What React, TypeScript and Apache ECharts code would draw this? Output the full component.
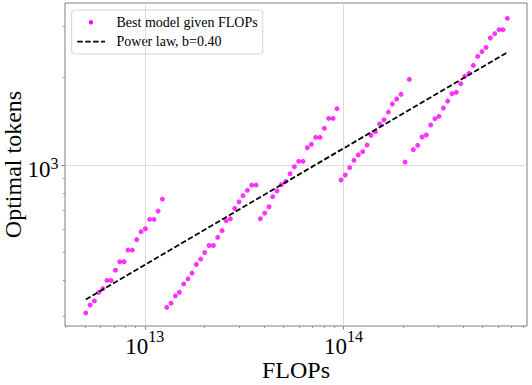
import React, { useEffect, useRef } from 'react';
import * as echarts from 'echarts';

// ---- data (FLOPs, optimal tokens) ----
const sweep1Flops = [5.05e12, 5.31e12, 5.58e12, 5.87e12, 6.15e12, 6.46e12, 6.77e12, 7.12e12, 7.48e12, 7.87e12, 8.24e12, 8.66e12, 9.11e12, 9.58e12, 1.007e13, 1.059e13, 1.114e13, 1.167e13, 1.227e13];
const sweep1Tokens = [309, 329, 340, 364, 375, 400, 400, 434, 464, 464, 509, 509, 553, 589, 603, 650, 650, 694, 763];

const sweep2Flops = [1.29e13, 1.356e13, 1.426e13, 1.494e13, 1.57e13, 1.651e13, 1.729e13, 1.818e13, 1.912e13, 2.003e13, 2.106e13, 2.214e13, 2.328e13, 2.448e13, 2.564e13, 2.696e13, 2.835e13, 2.98e13, 3.122e13, 3.283e13, 3.452e13, 3.63e13];
const sweep2Tokens = [323, 334, 354, 364, 389, 405, 424, 454, 474, 499, 528, 528, 563, 594, 643, 653, 709, 746, 784, 818, 853, 853];

const sweep3Flops = [3.816e13, 4.013e13, 4.22e13, 4.403e13, 4.629e13, 4.867e13, 5.118e13, 5.382e13, 5.658e13, 5.95e13, 6.256e13, 6.578e13, 6.889e13, 7.244e13, 7.617e13, 8.009e13, 8.422e13, 8.855e13, 9.275e13];
const sweep3Tokens = [653, 683, 718, 778, 814, 855, 878, 933, 987, 1030, 1030, 1148, 1179, 1246, 1246, 1338, 1448, 1448, 1564];

const sweep4Flops = [9.714e13, 1.021e14, 1.074e14, 1.129e14, 1.187e14, 1.249e14, 1.313e14, 1.375e14, 1.446e14, 1.52e14, 1.598e14, 1.681e14, 1.76e14, 1.851e14, 1.946e14, 2.144e14];
const sweep4Tokens = [888, 924, 979, 1038, 1083, 1112, 1172, 1266, 1303, 1385, 1433, 1523, 1623, 1689, 1753, 1974];

const sweep5Flops = [2.039e14, 2.246e14, 2.361e14, 2.483e14, 2.61e14, 2.745e14, 2.886e14, 3.023e14, 3.178e14, 3.342e14, 3.514e14, 3.695e14, 3.885e14, 4.069e14, 4.279e14, 4.499e14, 4.731e14, 4.974e14, 5.21e14, 5.478e14, 5.76e14, 6.057e14, 6.344e14, 6.67e14];
const sweep5Tokens = [1024, 1130, 1169, 1249, 1269, 1374, 1445, 1472, 1572, 1662, 1762, 1781, 1908, 2022, 2071, 2206, 2369, 2459, 2545, 2741, 2837, 2929, 2929, 3205];

const powerLawFlops = [5.05e12, 6.67e14];
const powerLawTokens = [344, 2446];

const flopsRange = [3.97e12, 8.376e14];
const tokensRange = [278.6, 3620];

const xMajorTicks = [1e13, 1e14];
const xMinorTicks = [4e12, 5e12, 6e12, 7e12, 8e12, 9e12, 2e13, 3e13, 4e13, 5e13, 6e13, 7e13, 8e13, 9e13, 2e14, 3e14, 4e14, 5e14, 6e14, 7e14, 8e14];
const yMajorTicks = [1e3];
const yMinorTicks = [300, 400, 500, 600, 700, 800, 900, 2000, 3000];

const legendLabels = ['Best model given FLOPs', 'Power law, b=0.40'];
const xName = 'FLOPs';
const yName = 'Optimal tokens';

const SERIF = "Liberation Serif, Times New Roman, DejaVu Serif, serif";
const MAGENTA = '#ff00ff';
const SPINE = '#7f7f7f';
const DASH = [5.5, 2.4];

const lg = (v: number) => Math.log10(v);

export default function App() {
  const ref = useRef<HTMLDivElement>(null);

  useEffect(() => {
    if (!ref.current) return;
    const chart = echarts.init(ref.current, undefined, { renderer: 'svg' });

    const sweeps = [
      [sweep1Flops, sweep1Tokens],
      [sweep2Flops, sweep2Tokens],
      [sweep3Flops, sweep3Tokens],
      [sweep4Flops, sweep4Tokens],
      [sweep5Flops, sweep5Tokens],
    ];
    const scatterData: number[][] = [];
    sweeps.forEach(([fx, ty]) => fx.forEach((f, i) => scatterData.push([lg(f), lg(ty[i])])));
    const lineData = powerLawFlops.map((f, i) => [lg(f), lg(powerLawTokens[i])]);

    const xMin = lg(flopsRange[0]);
    const xMax = lg(flopsRange[1]);
    const yMin = lg(tokensRange[0]);
    const yMax = lg(tokensRange[1]);

    const richX = {
      b: { fontSize: 23, fontFamily: SERIF, color: '#000', lineHeight: 30, verticalAlign: 'bottom' },
      s: { fontSize: 16, fontFamily: SERIF, color: '#000', lineHeight: 8, verticalAlign: 'top' },
    };
    const richY = {
      b: { fontSize: 23, fontFamily: SERIF, color: '#000', lineHeight: 26, verticalAlign: 'bottom' },
      s: { fontSize: 16, fontFamily: SERIF, color: '#000', lineHeight: 12, verticalAlign: 'top' },
    };
    const fmt = (v: number) => `{b|10}{s|${Math.round(v)}}`;

    const option: any = {
      animation: false,
      backgroundColor: '#ffffff',
      grid: {
        left: 65,
        top: 3,
        right: 5,
        bottom: 59,
        containLabel: false,
        outerBoundsMode: 'none',
        show: true,
        borderColor: SPINE,
        borderWidth: 1,
        backgroundColor: 'transparent',
      },
      xAxis: [
        {
          type: 'value',
          min: xMin,
          max: xMax,
          position: 'bottom',
          name: xName,
          nameLocation: 'middle',
          nameGap: 32,
          nameMoveOverlap: false,
          nameTextStyle: { fontSize: 24, fontFamily: SERIF, color: '#000' },
          axisLine: { show: false },
          axisTick: { show: true, length: 3.5, inside: false, customValues: xMajorTicks.map(lg), lineStyle: { color: SPINE, width: 1 } },
          axisLabel: { show: true, customValues: xMajorTicks.map(lg), formatter: fmt, rich: richX, margin: 2 },
          splitLine: { show: true, lineStyle: { color: '#dadada', width: 1 } },
        },
        {
          type: 'value',
          min: xMin,
          max: xMax,
          position: 'bottom',
          axisLine: { show: false },
          axisTick: { show: true, length: 2, inside: false, customValues: xMinorTicks.map(lg), lineStyle: { color: SPINE, width: 0.8 } },
          axisLabel: { show: false },
          splitLine: { show: false },
        },
      ],
      yAxis: [
        {
          type: 'value',
          min: yMin,
          max: yMax,
          position: 'left',
          name: yName,
          nameLocation: 'middle',
          nameGap: 40,
          nameMoveOverlap: false,
          nameTextStyle: { fontSize: 24, fontFamily: SERIF, color: '#000' },
          axisLine: { show: false },
          axisTick: { show: true, length: 3.5, inside: false, customValues: yMajorTicks.map(lg), lineStyle: { color: SPINE, width: 1 } },
          axisLabel: { show: true, customValues: yMajorTicks.map(lg), formatter: fmt, rich: richY, margin: 6.5, padding: [6, 0, 0, 0] },
          splitLine: { show: true, lineStyle: { color: '#dadada', width: 1 } },
        },
        {
          type: 'value',
          min: yMin,
          max: yMax,
          position: 'left',
          axisLine: { show: false },
          axisTick: { show: true, length: 2, inside: false, customValues: yMinorTicks.map(lg), lineStyle: { color: SPINE, width: 0.8 } },
          axisLabel: { show: false },
          splitLine: { show: false },
        },
      ],
      series: [
        {
          name: legendLabels[0],
          type: 'scatter',
          xAxisIndex: 0,
          yAxisIndex: 0,
          data: scatterData,
          symbol: 'circle',
          symbolSize: 5,
          itemStyle: { color: MAGENTA },
          z: 3,
          silent: true,
        },
        {
          name: legendLabels[1],
          type: 'line',
          xAxisIndex: 0,
          yAxisIndex: 0,
          data: lineData,
          showSymbol: false,
          symbol: 'none',
          lineStyle: { color: '#000', width: 1.8, type: DASH },
          z: 4,
          silent: true,
        },
      ],
      graphic: [
        {
          type: 'group',
          z: 100,
          children: [
            {
              type: 'rect',
              shape: { x: 71.7, y: 10, width: 191, height: 44, r: 3 },
              style: { fill: 'rgba(255,255,255,0.85)', stroke: '#d4d4d4', lineWidth: 1 },
            },
            {
              type: 'circle',
              shape: { cx: 91, cy: 22.3, r: 2.2 },
              style: { fill: MAGENTA },
            },
            {
              type: 'line',
              shape: { x1: 77.3, y1: 41.7, x2: 105, y2: 41.7 },
              style: { stroke: '#000', lineWidth: 1.8, lineDash: DASH },
            },
            {
              type: 'text',
              x: 116.5,
              y: 22,
              style: { text: legendLabels[0], fontSize: 14, fontFamily: SERIF, fill: '#000', verticalAlign: 'middle' },
            },
            {
              type: 'text',
              x: 116.5,
              y: 41.5,
              style: { text: legendLabels[1], fontSize: 14, fontFamily: SERIF, fill: '#000', verticalAlign: 'middle' },
            },
          ],
        },
      ],
    };

    chart.setOption(option);
    return () => {
      chart.dispose();
    };
  }, []);

  return (
    <div
      ref={ref}
      style={{ position: 'fixed', left: 0, top: 0, width: 532, height: 385, background: '#fff' }}
    />
  );
}
